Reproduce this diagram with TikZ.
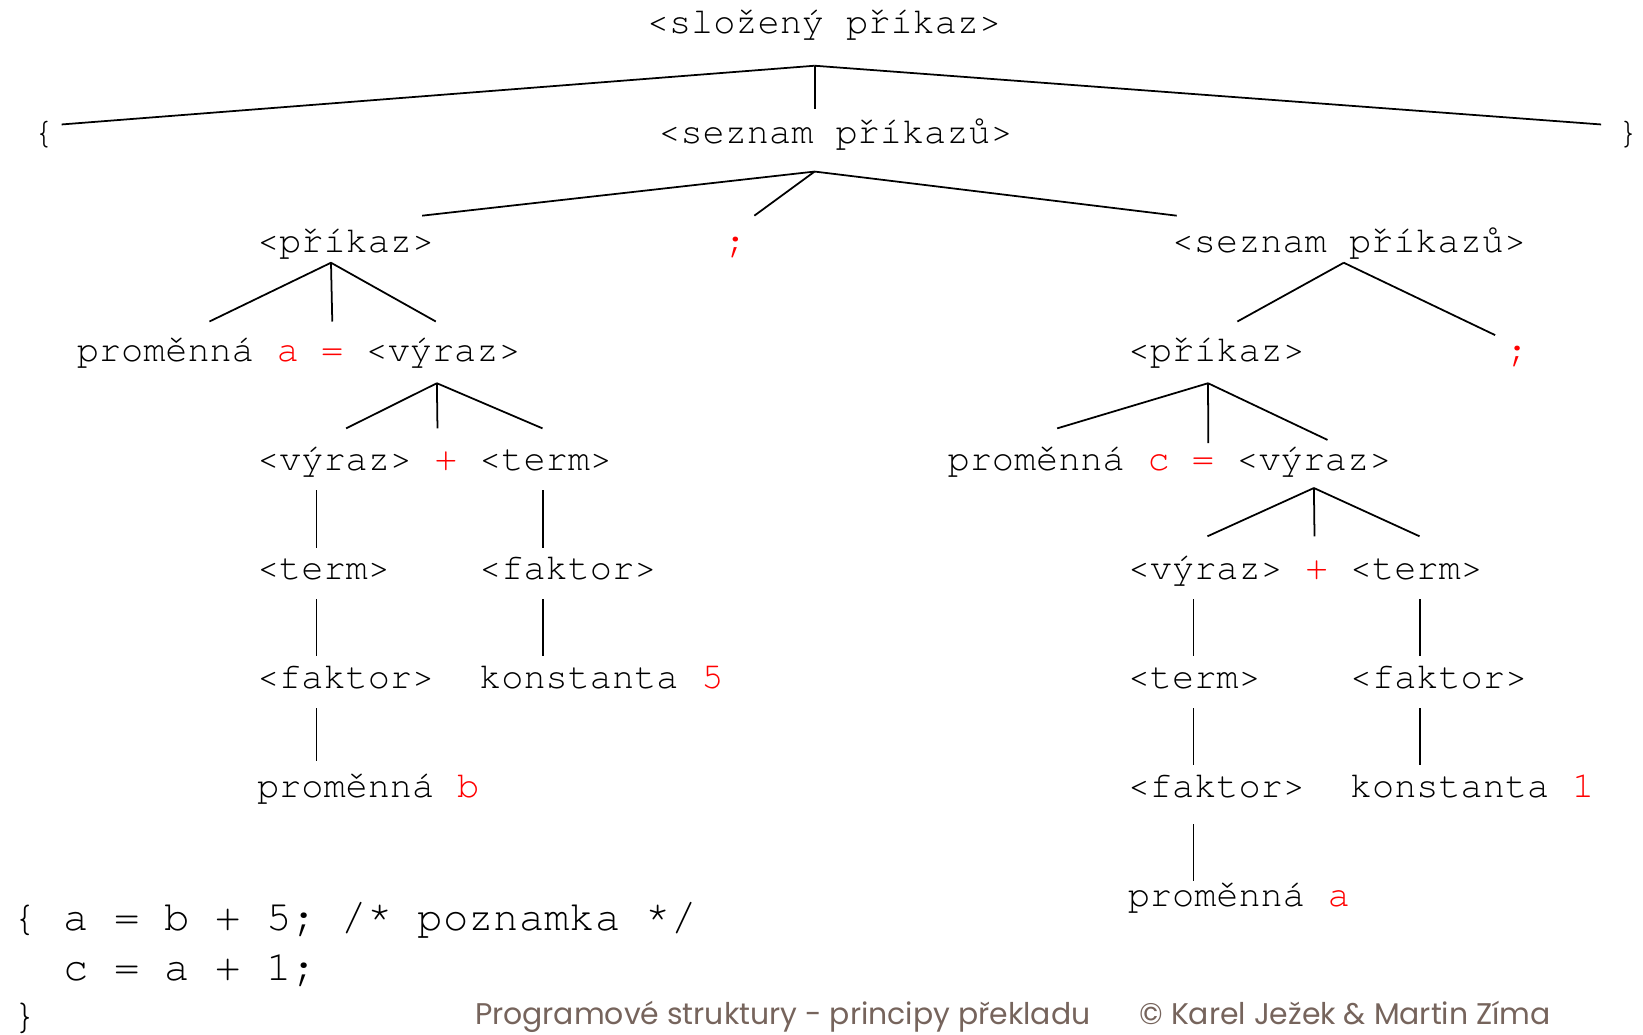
\documentclass[tikz,border=0pt]{standalone}
\usepackage{fontspec}
\setmainfont{Liberation Serif}
\setmonofont{TeX Gyre Cursor}
\newfontfamily\footfont{Poppins}
\definecolor{symred}{RGB}{255,0,0}
\definecolor{footgray}{RGB}{118,100,92}

\begin{document}
\begin{tikzpicture}[x=0.020956cm, y=-0.020956cm,
	every node/.style={inner sep=0pt, anchor=base west, text height=16pt, text depth=5pt,
		font=\ttfamily\fontsize{21}{25}\selectfont},
	sym/.style={text=symred},
	code/.style={font=\ttfamily\fontsize{24}{29}\selectfont},
	foot/.style={text=footgray, font=\footfont\fontsize{17}{20}\selectfont},
	edge/.style={line width=1pt}]
\useasboundingbox (0,0) rectangle (1568,987);

% rows of the derivation tree (baselines 104 apart)
\node (root) at (617,32) {<složený příkaz>};
\node (lbrace) at (31,137) {\{};
\node (list1) at (628,137) {<seznam příkazů>};
\node (rbrace) at (1543,137) {\}};
\node (cmd1) at (245,241) {<příkaz>};
\node[sym] (semi1) at (691,241) {;};
\node (list2) at (1118,241) {<seznam příkazů>};
% left branch: a = b + 5
\node (var1) at (73,345) {proměnná};
\node[sym] (id1) at (263.8,345) {a};
\node[sym] (eq1) at (306.2,345) {=};
\node (expr1) at (348.6,345) {<výraz>};
\node (expr2) at (245,449) {<výraz>};
\node[sym] (plus1) at (414.6,449) {+};
\node (term1) at (457,449) {<term>};
\node (term2) at (245,553) {<term>};
\node (fact1) at (457,553) {<faktor>};
\node (fact2) at (245,657) {<faktor>};
\node (const1) at (457,657) {konstanta};
\node[sym] (num1) at (669,657) {5};
\node (var3) at (245,761) {proměnná};
\node[sym] (id3) at (435.8,761) {b};
% right branch: c = a + 1
\node (cmd2) at (1076,345) {<příkaz>};
\node[sym] (semi2) at (1437,345) {;};
\node (var2) at (904,449) {proměnná};
\node[sym] (id2) at (1094.8,449) {c};
\node[sym] (eq2) at (1137.2,449) {=};
\node (expr3) at (1179.6,449) {<výraz>};
\node (expr4) at (1076,553) {<výraz>};
\node[sym] (plus2) at (1245.6,553) {+};
\node (term3) at (1288,553) {<term>};
\node (term4) at (1076,657) {<term>};
\node (fact3) at (1288,657) {<faktor>};
\node (fact4) at (1076,761) {<faktor>};
\node (const2) at (1288,761) {konstanta};
\node[sym] (num2) at (1500,761) {1};
\node (var4) at (1076,865) {proměnná};
\node[sym] (id4) at (1266.8,865) {a};

% forks
\coordinate (root-f) at ([shift={(-9,22)}]root.south);
\coordinate (list1-f) at ([shift={(-20,18)}]list1.south);
\coordinate (cmd1-f) at ([shift={(-14,1)}]cmd1.south);
\coordinate (list2-f) at ([shift={(-5,1)}]list2.south);
\coordinate (expr1-f) at ([shift={(-6,12)}]expr1.south);
\coordinate (cmd2-f) at ([shift={(-8,12)}]cmd2.south);
\coordinate (expr3-f) at ([shift={(0,8)}]expr3.south);

\draw[edge] (root-f) -- ([shift={(6,-9)}]lbrace.east);
\draw[edge] (root-f) -- ([shift={(-20,-6)}]list1.north);
\draw[edge] (root-f) -- ([shift={(-15,-9)}]rbrace.west);

\draw[edge] (list1-f) -- ([shift={(73,-8)}]cmd1.north);
\draw[edge] (list1-f) -- ([shift={(18,-8)}]semi1.north);
\draw[edge] (list1-f) -- ([shift={(5,-8)}]list2.north west);

\draw[edge] (cmd1-f) -- ([shift={(42,-11)}]var1.north);
\draw[edge] (cmd1-f) -- ([shift={(0,-11)}]eq1.north);
\draw[edge] (cmd1-f) -- ([shift={(-7,-11)}]expr1.north);

\draw[edge] (list2-f) -- ([shift={(20,-11)}]cmd2.north);
\draw[edge] (list2-f) -- ([shift={(-21,2)}]semi2.north);

\draw[edge] (expr1-f) -- ([shift={(11,-13)}]expr2.north);
\draw[edge] (expr1-f) -- ([shift={(-8,-13)}]plus1.north);
\draw[edge] (expr1-f) -- ([shift={(-3,-13)}]term1.north);

\draw[edge] (cmd2-f) -- ([shift={(20,-13)}]var2.north);
\draw[edge] (cmd2-f) -- ([shift={(5,1)}]eq2.north);
\draw[edge] (cmd2-f) -- ([shift={(13,-2)}]expr3.north);

\draw[edge] (expr3-f) -- ([shift={(2,-14)}]expr4.north);
\draw[edge] (expr3-f) -- ([shift={(-2,-14)}]plus2.north);
\draw[edge] (expr3-f) -- ([shift={(3,-14)}]term3.north);

% single-child chains
\draw[edge] ([shift={(57,10)}]expr2.south west) -- ([shift={(57,-3)}]term2.north west);
\draw[edge] ([shift={(57,10)}]term2.south west) -- ([shift={(57,-4)}]fact2.north west);
\draw[edge] ([shift={(57,10)}]fact2.south west) -- ([shift={(57,-8)}]var3.north west);
\draw[edge] ([shift={(61,10)}]term1.south west) -- ([shift={(61,-3)}]fact1.north west);
\draw[edge] ([shift={(61,10)}]fact1.south west) -- ([shift={(61,-4)}]const1.north west);
\draw[edge] ([shift={(63,10)}]expr4.south west) -- ([shift={(63,-4)}]term4.north west);
\draw[edge] ([shift={(63,10)}]term4.south west) -- ([shift={(63,-4)}]fact4.north west);
\draw[edge] ([shift={(63,17)}]fact4.south west) -- ([shift={(63,3)}]var4.north west);
\draw[edge] ([shift={(67,10)}]term3.south west) -- ([shift={(67,-4)}]fact3.north west);
\draw[edge] ([shift={(67,10)}]fact3.south west) -- ([shift={(67,-4)}]const2.north west);

% source text
\node[code] (src1) at (12,888) {\{ a = b + 5; /* poznamka */};
\node[code] (src2) at (12,936) {\hphantom{\{ }c = a + 1;};
\node[code] (src3) at (12,982) {\}};

% footer
\node[foot] (title) at (453,978) {Programové struktury - principy překladu};
\node[foot] (author) at (1087,978) {© Karel Ježek \& Martin Zíma};
\end{tikzpicture}
\end{document}
